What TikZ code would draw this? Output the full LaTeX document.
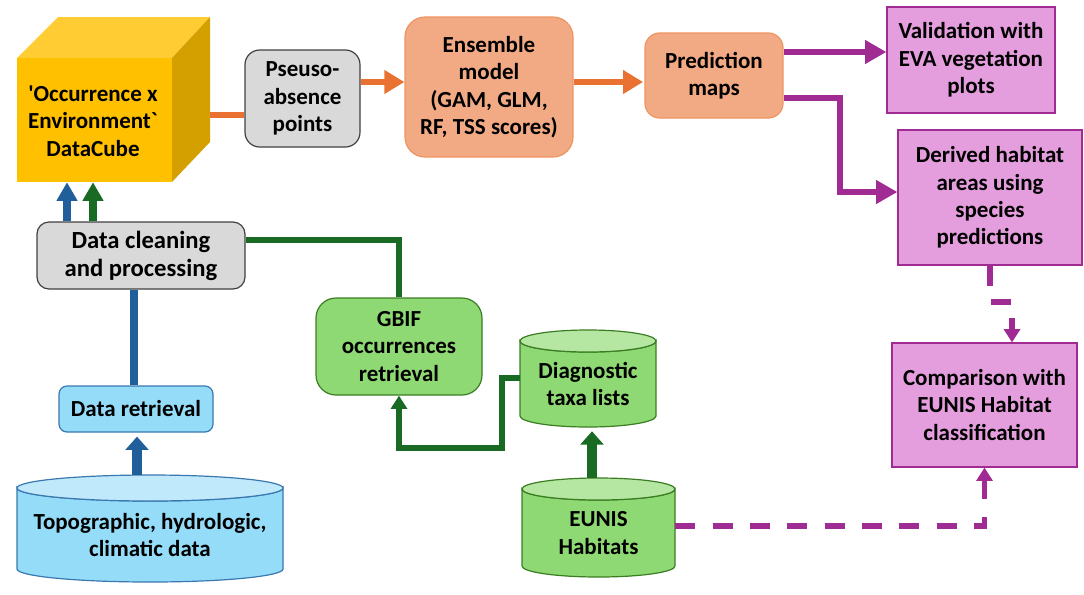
\documentclass[tikz,border=0pt]{standalone}
\usepackage{fontspec}
\setmainfont{Carlito}
\usetikzlibrary{arrows.meta}
\definecolor{orangeln}{HTML}{E97132}
\definecolor{purpleln}{HTML}{A02B93}
\definecolor{blueln}{HTML}{215F9A}
\definecolor{greenln}{HTML}{196B24}
\definecolor{boxgray}{HTML}{D9D9D9}
\definecolor{graybd}{HTML}{404040}
\definecolor{ensfill}{HTML}{F2AA84}
\definecolor{ensbd}{HTML}{EE9460}
\definecolor{purfill}{HTML}{E49EDD}
\definecolor{purbd}{HTML}{A02B93}
\definecolor{greenbody}{HTML}{8ED973}
\definecolor{greentop}{HTML}{B5E6A2}
\definecolor{greenbd}{HTML}{3B7D23}
\definecolor{bluebody}{HTML}{95DCF8}
\definecolor{bluetop}{HTML}{C0E9FB}
\definecolor{bluebd}{HTML}{3A78B0}
\definecolor{cubefront}{HTML}{FFC000}
\definecolor{cubetop}{HTML}{FFCD33}
\definecolor{cubeside}{HTML}{D4A000}
\tikzset{
  box/.style={inner sep=0pt, align=center, line width=0.9pt},
  graybox/.style={box, fill=boxgray, draw=graybd},
  ensbox/.style={box, fill=ensfill, draw=ensbd},
  purbox/.style={box, fill=purfill, draw=purbd},
  greenbox/.style={box, fill=greenbody, draw=greenbd, rounded corners=15pt},
  bluebox/.style={box, fill=bluebody, draw=bluebd, rounded corners=6pt},
  anchorbox/.style={inner sep=0pt},
  cyltext/.style={align=center, inner sep=0pt},
  bluecyl/.style={fill=bluebody, draw=bluebd, line width=0.9pt},
  bluecyltop/.style={fill=bluetop, draw=bluebd, line width=0.9pt},
  greencyl/.style={fill=greenbody, draw=greenbd, line width=0.9pt},
  greencyltop/.style={fill=greentop, draw=greenbd, line width=0.9pt},
  orangearrow/.style={draw=orangeln, line width=5pt, -{Triangle[width=17pt,length=15pt]}},
  purplearrow/.style={draw=purpleln, line width=5pt, -{Triangle[width=17pt,length=16pt]}},
  dashedpurple/.style={draw=purpleln, line width=4pt, dash pattern=on 15pt off 13pt, -{Triangle[width=12pt,length=10pt]}},
}
\begin{document}
\begin{tikzpicture}[x=0.75pt,y=-0.75pt,
  font=\bfseries\fontsize{17.25pt}{20.6pt}\selectfont]
\useasboundingbox (0,0) rectangle (1084,594);

% cube
\fill[cubetop] (17,58) -- (58,17) -- (210,17) -- (172,58) -- cycle;
\fill[cubeside] (172,58) -- (210,17) -- (210,142) -- (172,182) -- cycle;
\fill[cubefront] (17,58) rectangle (172,182);
\node[anchorbox, minimum width=144.75pt, minimum height=123.75pt] (cube) at (113.5,99.5) {};
\node[cyltext] (cubetext) at (93,121) {\textquotesingle Occurrence x\\Environment\textasciigrave\\DataCube};

% boxes
\node[graybox, rounded corners=11pt, minimum width=86.25pt, minimum height=72.75pt] (pseudo) at (302.5,98.5) {Pseuso-\\absence\\points};
\node[ensbox, rounded corners=15pt, minimum width=126pt, minimum height=105pt] (ens) at (489,87) {Ensemble\\model\\(GAM, GLM,\\RF, TSS scores)};
\node[ensbox, rounded corners=11pt, minimum width=103.5pt, minimum height=63.75pt] (pred) at (714,75.5) {Prediction\\maps};
\node[purbox, minimum width=126pt, minimum height=79.5pt] (valid) at (971,60) {Validation with\\EVA vegetation\\plots};
\node[purbox, minimum width=138pt, minimum height=101.25pt] (derived) at (990,197.5) {Derived habitat\\areas using\\species\\predictions};
\node[purbox, minimum width=138.75pt, minimum height=93pt] (compar) at (984.5,405) {Comparison with\\EUNIS Habitat\\classification};
\node[graybox, rounded corners=9pt, minimum width=156pt, minimum height=50.25pt, font=\bfseries\fontsize{18.5pt}{21pt}\selectfont] (clean) at (141,255.5) {Data cleaning\\and processing};
\node[bluebox, minimum width=115.5pt, minimum height=34.5pt] (retr) at (136,409) {Data retrieval};
\node[greenbox, minimum width=124.5pt, minimum height=72.75pt] (gbif) at (399,346.5) {GBIF\\occurrences\\retrieval};

% cylinders
\path[bluecyl] (17,488) -- (17,569) arc[start angle=180,end angle=0,x radius=133,y radius=13] -- (283,488) arc[start angle=0,end angle=180,x radius=133,y radius=13] -- cycle;
\path[bluecyltop] (150,488) ellipse[x radius=133, y radius=13];
\node[anchorbox, minimum width=199.5pt, minimum height=80.25pt] (topo) at (150,528.5) {};
\node[cyltext] (topotext) at (150,535) {Topographic, hydrologic,\\climatic data};

\path[greencyl] (520,341) -- (520,416) arc[start angle=180,end angle=0,x radius=68,y radius=11] -- (656,341) arc[start angle=0,end angle=180,x radius=68,y radius=11] -- cycle;
\path[greencyltop] (588,341) ellipse[x radius=68, y radius=11];
\node[anchorbox, minimum width=102pt, minimum height=72.75pt] (diag) at (588,378.5) {};
\node[cyltext] (diagtext) at (588,384) {Diagnostic\\taxa lists};

\path[greencyl] (522,489) -- (522,566) arc[start angle=180,end angle=0,x radius=76.5,y radius=11] -- (675,489) arc[start angle=0,end angle=180,x radius=76.5,y radius=11] -- cycle;
\path[greencyltop] (598.5,489) ellipse[x radius=76.5, y radius=11];
\node[anchorbox, minimum width=114.75pt, minimum height=74.25pt] (eunis) at (598.5,527.5) {};
\node[cyltext] (eunistext) at (598.5,533) {EUNIS\\Habitats};

% connectors
\draw[draw=orangeln, line width=5pt] (cube.east |- 0,115) -- (pseudo.west |- 0,115);
\draw[orangearrow] (pseudo.east |- 0,82) -- (ens.west |- 0,82);
\draw[orangearrow] (ens.east |- 0,82) -- ([xshift=-1pt]pred.west |- 0,82);
\draw[purplearrow] (pred.east |- 0,52) -- (valid.west |- 0,52);
\draw[purplearrow] (pred.east |- 0,98) -| (840,192) -- (derived.west |- 0,192);
\draw[dashedpurple] (derived.south) |- (1012,302) -- (compar.north -| 1012,0);
\draw[dashedpurple] (eunis.east |- 0,526) -| (compar.south);

\draw[draw=blueln, line width=5.5pt, -{Triangle[width=15pt,length=14pt]}] (clean.north -| 67,0) -- (cube.south -| 67,0);
\draw[draw=greenln, line width=5.5pt, -{Triangle[width=15pt,length=14pt]}] (clean.north -| 93,0) -- (cube.south -| 93,0);
\draw[draw=greenln, line width=5pt] (clean.east |- 0,240) -| (gbif.north);
\draw[draw=blueln, line width=5.5pt] (retr.north -| 134,0) -- (clean.south -| 134,0);
\draw[draw=blueln, line width=7pt, -{Triangle[width=17pt,length=10pt]}] (topo.north -| 137,0) -- ([yshift=-3pt]retr.south -| 137,0);
\draw[draw=greenln, line width=4pt, -{Triangle[width=12pt,length=10pt]}] (diag.west |- 0,378) -| (502,448) -| (gbif.south);
\draw[draw=greenln, line width=7pt, -{Triangle[width=17pt,length=10pt]}] (eunis.north -| 592,0) -- ([yshift=-3pt]diag.south -| 592,0);
\end{tikzpicture}
\end{document}
